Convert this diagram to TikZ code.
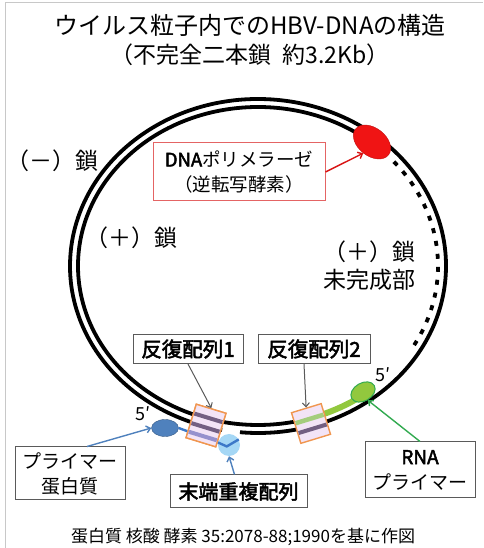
\documentclass[tikz,border=0pt]{standalone}
\usepackage{fontspec}
\setmainfont{Noto Sans CJK JP}
\newfontfamily\semibold[FakeBold=2.5]{Noto Sans CJK JP}
\usetikzlibrary{arrows.meta,positioning,calc,shapes.geometric}
\definecolor{polred}{RGB}{240,20,20}
\definecolor{polframe}{RGB}{228,100,100}
\definecolor{protblue}{RGB}{79,129,189}
\definecolor{linkblue}{RGB}{60,120,200}
\definecolor{paleblue}{RGB}{165,215,245}
\definecolor{primergreen}{RGB}{146,200,62}
\definecolor{arrowgreen}{RGB}{50,170,80}
\definecolor{drorange}{RGB}{240,150,80}
\definecolor{drfill}{RGB}{243,228,246}
\definecolor{drpurple}{RGB}{115,95,130}
\definecolor{drviolet}{RGB}{150,145,205}
\definecolor{drgreen}{RGB}{165,205,125}
\definecolor{boxgray}{RGB}{90,90,90}
\definecolor{framegray}{RGB}{200,200,200}
\tikzset{
  strand/.style={line width=3.8pt,black},
  gapped/.style={strand,dash pattern=on 5pt off 8pt},
  labelbox/.style={draw=boxgray,line width=1pt,fill=white,inner sep=2pt,align=center},
  repeatbox/.style={draw=drorange,line width=1.4pt,fill=drfill,
    minimum width=31pt,minimum height=35pt,inner sep=0pt},
  pointer/.style={line width=1pt,boxgray,-{Straight Barb[length=4pt,width=7pt]}},
  link/.style={line width=2.4pt,linkblue},
  bigtext/.style={font=\fontsize{23}{28}\selectfont,align=center},
  midtext/.style={font=\fontsize{19}{25}\selectfont,align=center}
}

\begin{document}
\begin{tikzpicture}[x=1pt,y=1pt]
  \useasboundingbox (0,0) rectangle (483,548);
  \draw[framegray,line width=0.8pt] (5,0) -- (5,546) -- (483,546);

  % title
  \node[font=\fontsize{24}{29}\selectfont,align=center] (title) at (250,507.5)
    {ウイルス粒子内でのHBV-DNAの構造\\{\fontsize{23}{29}\selectfont（不完全二本鎖\hspace{0.5em}約3.2Kb）}};

  % the two strands
  \coordinate (ctr) at (258,282);
  \draw[strand] (ctr) ++(264.5:188 and 167)
    arc[start angle=264.5,end angle=619,x radius=188,y radius=167];
  \draw[strand] (ctr) ++(50:180 and 159)
    arc[start angle=50,end angle=308,x radius=180,y radius=159];
  \draw[gapped] (ctr) ++(41:180 and 159)
    arc[start angle=41,end angle=-30,x radius=180,y radius=159];
  \draw[line width=6pt,primergreen] (ctr) ++(290:180 and 159)
    arc[start angle=290,end angle=305,x radius=180,y radius=159];

  % strand ends
  \node[circle,fill=paleblue,minimum size=22pt,inner sep=0pt] (redund) at (229,103) {};
  \node[ellipse,draw=polred!80!black,fill=polred,minimum width=42pt,
    minimum height=28pt,inner sep=0pt,rotate=-38] (pol) at (372,406) {};
  \node[ellipse,draw=arrowgreen,line width=1pt,fill=primergreen,minimum width=26pt,
    minimum height=18pt,inner sep=0pt,rotate=30] (rnap) at (363,156) {};
  \node[ellipse,draw=protblue!70!black,fill=protblue,minimum width=27pt,
    minimum height=17pt,inner sep=0pt] (prot) at (165,120) {};

  % direct repeats
  \node[repeatbox,rotate=-17] (dr1) at (206,122.5) {};
  \draw[link] (prot.east) -- ($(dr1.west)!0.6!(dr1.south west)$);
  \draw[link] ($(dr1.east)!0.7!(dr1.south east)$) -- ++(9,-4) -- ++(12,7);
  \node[repeatbox,rotate=-17] (dr1) at (206,122.5) {};
  \begin{scope}[shift={(dr1.center)},rotate=-17]
    \fill[drpurple] (-14.6,6) rectangle (14.6,10);
    \fill[drpurple] (-14.6,-4) rectangle (14.6,0);
    \fill[drviolet] (-14.6,-13) rectangle (14.6,-9);
  \end{scope}
  \node[repeatbox,rotate=17,minimum height=32pt] (dr2) at (311,124.5) {};
  \begin{scope}[shift={(dr2.center)},rotate=17]
    \fill[drgreen] (-14.6,2.5) rectangle (14.6,7);
    \fill[drpurple] (-14.6,-7.5) rectangle (14.6,-3.5);
  \end{scope}

  % labels
  \node[bigtext] (minus) at (52,387) {（－）鎖};
  \node[bigtext] (plus) at (131,310) {（＋）鎖};
  \node[bigtext] (gap) at (369,282) {（＋）鎖\\未完成部};
  \node[font=\fontsize{18}{20}\selectfont] (fiveA) at (143,134) {5′};
  \node[font=\fontsize{18}{20}\selectfont] (fiveB) at (383,173) {5′};
  \node[labelbox,draw=polframe,minimum width=172pt,minimum height=58pt,
    font=\fontsize{18.5}{25}\selectfont] (dnapol) at (239,376)
    {{\semibold DNA}ポリメラーゼ\\（逆転写酵素）};
  \node[labelbox,font=\fontsize{20.5}{25}\semibold,minimum width=110pt,
    minimum height=29pt] (lab1) at (188,199) {反復配列1};
  \node[labelbox,font=\fontsize{20.5}{25}\semibold,minimum width=112pt,
    minimum height=29pt] (lab2) at (314,199) {反復配列2};
  \node[labelbox,midtext,minimum width=110pt,minimum height=53pt] (plab) at (70,74.5)
    {プライマー\\蛋白質};
  \node[labelbox,font=\fontsize{20}{25}\semibold,minimum width=137pt,
    minimum height=33pt] (rlab) at (238.5,56.5) {末端重複配列};
  \node[labelbox,midtext,minimum width=110pt,minimum height=56pt] (rnalab) at (420,78)
    {{\semibold RNA}\\プライマー};
  \node[font=\fontsize{17}{20}\selectfont] (src) at (243,11)
    {蛋白質 核酸 酵素 35:2078-88;1990を基に作図};

  % pointers
  \draw[pointer] (lab1.south) -- (dr1.north);
  \draw[pointer] ([xshift=-10pt]lab2.south) -- (dr2.north);
  \draw[pointer,polred!90!black,line width=1.4pt] (dnapol.east) -- (pol.south);
  \draw[pointer,protblue,line width=1.4pt] ([xshift=17pt]plab.north) -- (prot.west);
  \draw[pointer,protblue,line width=1.4pt] ([xshift=-4pt]rlab.north) -- (redund.south);
  \draw[pointer,arrowgreen,line width=1.4pt] (rnalab.north) -- (rnap.south);
\end{tikzpicture}
\end{document}
